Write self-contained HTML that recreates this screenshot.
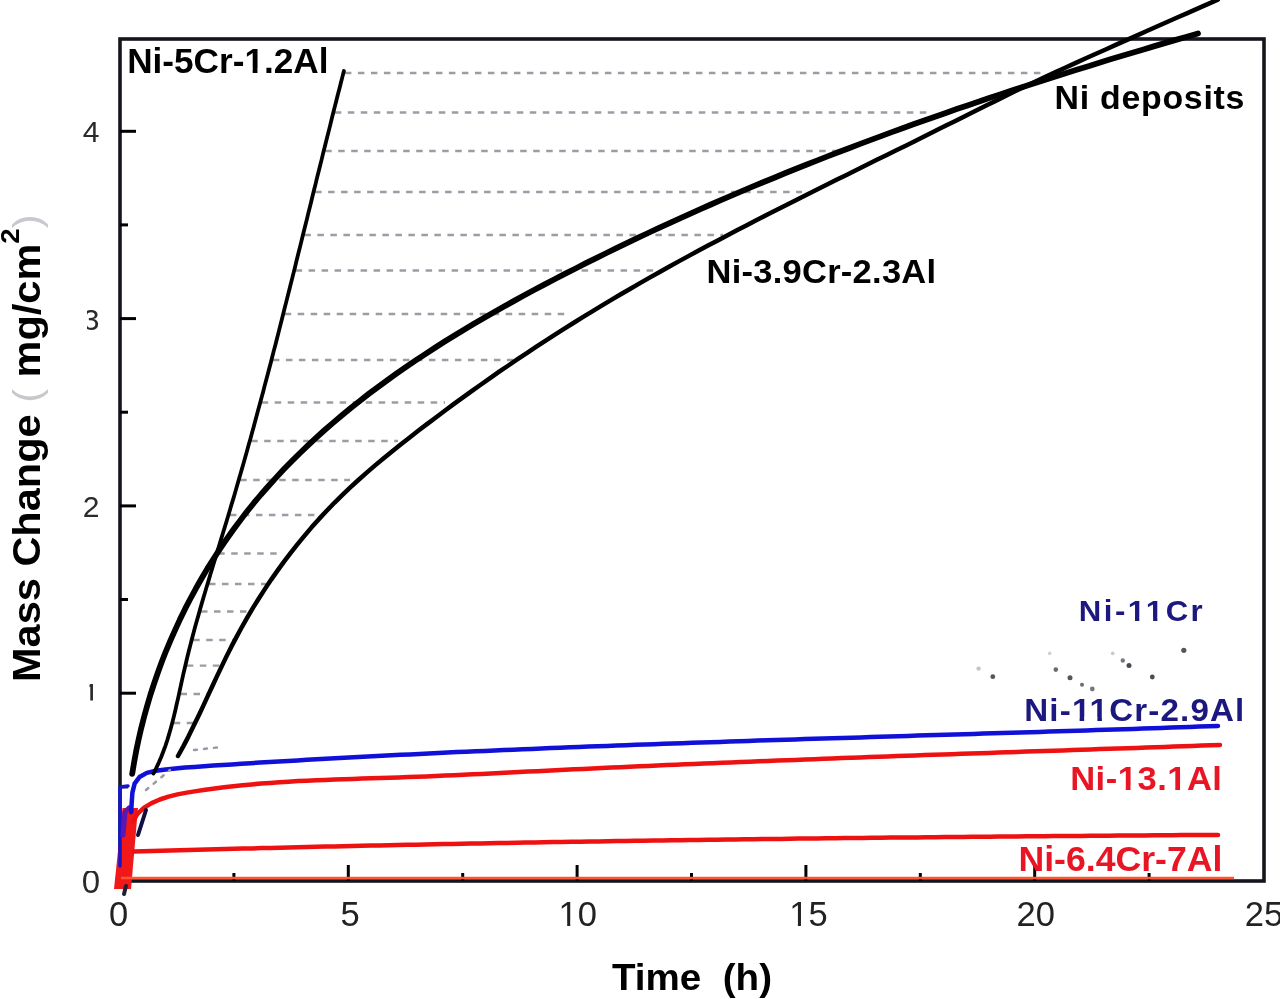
<!DOCTYPE html>
<html><head><meta charset="utf-8"><title>Mass change vs time</title>
<style>
html,body{margin:0;padding:0;background:#fff;}
body{width:1280px;height:999px;overflow:hidden;}
svg{display:block;font-family:"Liberation Sans",Arial,sans-serif;filter:blur(0.55px);}
.c{fill:none;stroke-linecap:round;stroke-linejoin:round;}
.dash{stroke:#9c9ca6;stroke-width:2.3;stroke-dasharray:6.5 6.5;}
.dot{stroke:#9a9aa6;stroke-width:2.5;stroke-dasharray:3 7;stroke-linecap:round;}
</style></head><body>
<svg width="1280" height="999" viewBox="0 0 1280 999">
<rect width="1280" height="999" fill="#fff"/>
<defs><clipPath id="f1c0" clipPathUnits="userSpaceOnUse"><path clip-rule="evenodd" d="M-3000 -3000H3000V3000H-3000ZM560.41 922.51H567.19V927.50H560.41ZM570.24 922.51H576.80V927.50H570.24Z"/></clipPath><clipPath id="f1c1" clipPathUnits="userSpaceOnUse"><path clip-rule="evenodd" d="M-3000 -3000H3000V3000H-3000ZM791.11 922.51H797.89V927.50H791.11ZM800.94 922.51H807.50V927.50H800.94Z"/></clipPath><clipPath id="f1c2" clipPathUnits="userSpaceOnUse"><path clip-rule="evenodd" d="M-3000 -3000H3000V3000H-3000ZM119.66 -4.07H126.52V2.00H119.66ZM131.39 -4.07H138.11V2.00H131.39Z"/></clipPath><clipPath id="f1c3" clipPathUnits="userSpaceOnUse"><path clip-rule="evenodd" d="M-3000 -3000H3000V3000H-3000ZM48.71 -3.53H54.57V2.00H48.71ZM58.72 -3.53H64.45V2.00H58.72ZM66.26 -3.53H72.11V2.00H66.26ZM76.27 -3.53H82.00V2.00H76.27Z"/></clipPath><clipPath id="f1c4" clipPathUnits="userSpaceOnUse"><path clip-rule="evenodd" d="M-3000 -3000H3000V3000H-3000ZM47.50 -3.73H53.72V2.00H47.50ZM58.14 -3.73H64.23V2.00H58.14ZM64.72 -3.73H70.95V2.00H64.72ZM75.36 -3.73H81.46V2.00H75.36Z"/></clipPath><clipPath id="f1c5" clipPathUnits="userSpaceOnUse"><path clip-rule="evenodd" d="M-3000 -3000H3000V3000H-3000ZM47.49 -3.87H53.98V2.00H47.49ZM58.58 -3.87H64.94V2.00H58.58ZM95.54 -3.87H102.03V2.00H95.54ZM106.64 -3.87H113.00V2.00H106.64Z"/></clipPath><clipPath id="yl0"><rect x="70.0" y="871.0" width="40.0" height="40.0"/></clipPath><clipPath id="yl1"><rect x="89.5" y="673.2" width="5.5" height="27.3"/></clipPath><clipPath id="yl2"><rect x="70.0" y="495.9" width="40.0" height="30.0"/></clipPath><clipPath id="yl3"><rect x="87.0" y="298.6" width="20.0" height="40.0"/></clipPath><clipPath id="yl4"><rect x="70.0" y="116.3" width="40.0" height="40.0"/></clipPath></defs>
<line x1="344.9" y1="73.0" x2="1043.0" y2="73.0" class="dash"/>
<line x1="334.8" y1="112.5" x2="929.0" y2="112.5" class="dash"/>
<line x1="325.2" y1="151.0" x2="840.0" y2="151.0" class="dash"/>
<line x1="315.1" y1="192.0" x2="802.0" y2="192.0" class="dash"/>
<line x1="304.4" y1="235.0" x2="723.0" y2="235.0" class="dash"/>
<line x1="295.6" y1="270.5" x2="662.0" y2="270.5" class="dash"/>
<line x1="284.7" y1="314.0" x2="570.0" y2="314.0" class="dash"/>
<line x1="272.9" y1="360.0" x2="520.0" y2="360.0" class="dash"/>
<line x1="261.7" y1="402.5" x2="445.0" y2="402.5" class="dash"/>
<line x1="251.2" y1="441.0" x2="398.0" y2="441.0" class="dash"/>
<line x1="240.2" y1="480.0" x2="350.0" y2="480.0" class="dash"/>
<line x1="229.9" y1="515.0" x2="320.0" y2="515.0" class="dash"/>
<line x1="218.2" y1="553.5" x2="280.0" y2="553.5" class="dash"/>
<line x1="209.0" y1="584.0" x2="266.0" y2="584.0" class="dash"/>
<line x1="201.0" y1="611.5" x2="253.0" y2="611.5" class="dash"/>
<line x1="193.2" y1="640.0" x2="236.0" y2="640.0" class="dash"/>
<line x1="186.8" y1="665.6" x2="225.0" y2="665.6" class="dash"/>
<line x1="180.5" y1="694.0" x2="210.0" y2="694.0" class="dash"/>
<line x1="173.7" y1="723.0" x2="200.0" y2="723.0" class="dash"/>
<rect x="120" y="39" width="1144" height="842" fill="none" stroke="#15151c" stroke-width="3.6"/>
<line x1="233.9" y1="881" x2="233.9" y2="873" stroke="#000" stroke-width="3"/>
<line x1="348.3" y1="881" x2="348.3" y2="865" stroke="#000" stroke-width="3"/>
<line x1="462.7" y1="881" x2="462.7" y2="873" stroke="#000" stroke-width="3"/>
<line x1="577.1" y1="881" x2="577.1" y2="865" stroke="#000" stroke-width="3"/>
<line x1="691.5" y1="881" x2="691.5" y2="873" stroke="#000" stroke-width="3"/>
<line x1="805.9" y1="881" x2="805.9" y2="865" stroke="#000" stroke-width="3"/>
<line x1="920.3" y1="881" x2="920.3" y2="873" stroke="#000" stroke-width="3"/>
<line x1="1034.7" y1="881" x2="1034.7" y2="865" stroke="#000" stroke-width="3"/>
<line x1="1149.1" y1="881" x2="1149.1" y2="873" stroke="#000" stroke-width="3"/>
<line x1="120" y1="786.9" x2="128" y2="786.9" stroke="#000" stroke-width="3"/>
<line x1="120" y1="693.2" x2="136" y2="693.2" stroke="#000" stroke-width="3"/>
<line x1="120" y1="599.5" x2="128" y2="599.5" stroke="#000" stroke-width="3"/>
<line x1="120" y1="505.9" x2="136" y2="505.9" stroke="#000" stroke-width="3"/>
<line x1="120" y1="412.2" x2="128" y2="412.2" stroke="#000" stroke-width="3"/>
<line x1="120" y1="318.6" x2="136" y2="318.6" stroke="#000" stroke-width="3"/>
<line x1="120" y1="224.9" x2="128" y2="224.9" stroke="#000" stroke-width="3"/>
<line x1="120" y1="131.3" x2="136" y2="131.3" stroke="#000" stroke-width="3"/>
<polygon points="114,889 131,889 138,808 122.5,808" fill="#f01818"/><path d="M126 886 L124 894" class="c" stroke="#202030" stroke-width="4"/>
<path d="M120 866 L120 787 L128 786" class="c" stroke="#1515d0" stroke-width="3.5"/>
<path d="M123 835 L125 812 L129 808" class="c" stroke="#5a18b0" stroke-width="5"/>
<path d="M134.0 851.6 L143.1 851.3 152.2 851.0 161.3 850.8 170.4 850.5 179.5 850.3 188.6 850.0 197.7 849.8 206.8 849.5 215.9 849.3 225.0 849.1 234.2 848.8 243.3 848.6 252.4 848.4 261.5 848.1 270.6 847.9 279.7 847.7 288.8 847.5 297.9 847.3 307.0 847.0 316.1 846.8 325.2 846.6 334.3 846.4 343.4 846.2 352.6 846.0 361.7 845.8 370.8 845.6 379.9 845.4 389.0 845.2 398.1 845.0 407.2 844.8 416.3 844.7 425.4 844.5 434.5 844.3 443.6 844.1 452.7 843.9 461.9 843.8 471.0 843.6 480.1 843.4 489.2 843.2 498.3 843.1 507.4 842.9 516.5 842.8 525.6 842.6 534.7 842.4 543.8 842.3 552.9 842.1 562.1 842.0 571.2 841.8 580.3 841.7 589.4 841.5 598.5 841.4 607.6 841.2 616.7 841.1 625.8 841.0 634.9 840.8 644.0 840.7 653.2 840.6 662.3 840.4 671.4 840.3 680.5 840.2 689.6 840.0 698.7 839.9 707.8 839.8 716.9 839.7 726.0 839.6 735.1 839.4 744.3 839.3 753.4 839.2 762.5 839.1 771.6 839.0 780.7 838.9 789.8 838.8 798.9 838.6 808.0 838.5 817.1 838.4 826.3 838.3 835.4 838.2 844.5 838.1 853.6 838.0 862.7 837.9 871.8 837.8 880.9 837.7 890.0 837.6 899.1 837.5 908.3 837.5 917.4 837.4 926.5 837.3 935.6 837.2 944.7 837.1 953.8 837.0 962.9 836.9 972.0 836.8 981.1 836.8 990.2 836.7 999.4 836.6 1008.5 836.5 1017.6 836.4 1026.7 836.3 1035.8 836.3 1044.9 836.2 1054.0 836.1 1063.1 836.0 1072.2 836.0 1081.3 835.9 1090.5 835.8 1099.6 835.7 1108.7 835.7 1117.8 835.6 1126.9 835.5 1136.0 835.5 1145.1 835.4 1154.2 835.3 1163.3 835.3 1172.4 835.2 1181.6 835.1 1190.7 835.1 1199.8 835.0 1208.9 834.9 1218.0 834.9" class="c" stroke="#ee1111" stroke-width="4.5"/>
<line x1="121" y1="878" x2="1234" y2="878" stroke="#ff5533" stroke-width="2.5"/>
<path d="M132.9 821.4 L137.7 813.6 144.1 807.7 151.6 803.1 159.8 799.5 168.5 796.6 177.5 794.4 186.8 792.6 196.1 791.1 205.4 789.7 214.7 788.4 224.0 787.3 233.3 786.2 242.5 785.3 251.8 784.4 261.0 783.6 270.2 782.9 279.4 782.2 288.6 781.7 297.8 781.1 307.0 780.7 316.2 780.2 325.3 779.9 334.5 779.5 343.7 779.2 352.9 778.9 362.0 778.6 371.2 778.3 380.4 778.0 389.6 777.7 398.8 777.4 407.9 777.1 417.2 776.7 426.4 776.4 435.6 776.0 444.8 775.6 454.0 775.2 463.3 774.8 472.5 774.3 481.7 773.9 491.0 773.5 500.2 773.0 509.5 772.5 518.7 772.1 528.0 771.6 537.2 771.2 546.5 770.7 555.7 770.2 565.0 769.8 574.2 769.3 583.4 768.9 592.7 768.5 601.9 768.0 611.2 767.6 620.4 767.2 629.6 766.8 638.9 766.3 648.1 765.9 657.3 765.5 666.6 765.1 675.8 764.7 685.0 764.3 694.2 763.9 703.5 763.5 712.7 763.2 721.9 762.8 731.1 762.4 740.4 762.0 749.6 761.7 758.8 761.3 768.0 760.9 777.2 760.6 786.4 760.2 795.7 759.9 804.9 759.5 814.1 759.2 823.3 758.8 832.5 758.5 841.7 758.1 851.0 757.8 860.2 757.4 869.4 757.1 878.6 756.8 887.8 756.4 897.0 756.1 906.2 755.8 915.5 755.4 924.7 755.1 933.9 754.8 943.1 754.5 952.3 754.2 961.5 753.8 970.8 753.5 980.0 753.2 989.2 752.9 998.4 752.6 1007.6 752.2 1016.9 751.9 1026.1 751.6 1035.3 751.3 1044.5 751.0 1053.7 750.7 1063.0 750.4 1072.2 750.1 1081.4 749.7 1090.6 749.4 1099.9 749.1 1109.1 748.8 1118.3 748.5 1127.6 748.2 1136.8 747.9 1146.0 747.5 1155.3 747.2 1164.5 746.9 1173.8 746.6 1183.0 746.3 1192.3 746.0 1201.5 745.6 1210.7 745.3 1220.0 745.0" class="c" stroke="#ee1111" stroke-width="4.5"/>
<path d="M131.2 812.2 L131.7 802.6 132.4 792.6 134.6 783.7 139.5 777.0 146.8 772.9 155.9 770.7 165.7 769.4 175.5 768.4 185.1 767.6 194.5 766.9 203.9 766.2 213.3 765.6 222.6 765.0 232.0 764.4 241.3 763.8 250.7 763.2 260.1 762.6 269.4 762.1 278.8 761.5 288.2 760.9 297.5 760.4 306.9 759.8 316.3 759.3 325.6 758.8 335.0 758.3 344.4 757.8 353.7 757.3 363.1 756.8 372.5 756.3 381.9 755.8 391.3 755.3 400.6 754.8 410.0 754.4 419.4 753.9 428.8 753.5 438.2 753.0 447.5 752.6 456.9 752.1 466.3 751.7 475.7 751.3 485.1 750.9 494.5 750.5 503.9 750.1 513.3 749.7 522.6 749.3 532.0 748.9 541.4 748.5 550.8 748.1 560.2 747.7 569.6 747.3 579.0 747.0 588.4 746.6 597.8 746.3 607.2 745.9 616.6 745.5 626.0 745.2 635.4 744.8 644.8 744.5 654.2 744.2 663.6 743.8 673.0 743.5 682.4 743.2 691.8 742.8 701.2 742.5 710.6 742.2 720.0 741.9 729.4 741.6 738.8 741.3 748.2 740.9 757.6 740.6 767.0 740.3 776.4 740.0 785.8 739.7 795.2 739.4 804.6 739.1 814.0 738.8 823.4 738.5 832.8 738.2 842.2 737.9 851.6 737.7 861.0 737.4 870.4 737.1 879.8 736.8 889.2 736.5 898.6 736.2 908.0 735.9 917.4 735.6 926.8 735.3 936.2 735.1 945.6 734.8 955.0 734.5 964.4 734.2 973.8 733.9 983.2 733.6 992.6 733.3 1002.0 733.0 1011.4 732.8 1020.8 732.5 1030.2 732.2 1039.6 731.9 1049.0 731.6 1058.4 731.3 1067.8 731.0 1077.2 730.7 1086.6 730.4 1096.0 730.1 1105.4 729.8 1114.7 729.5 1124.1 729.2 1133.5 728.9 1142.9 728.6 1152.3 728.2 1161.7 727.9 1171.1 727.6 1180.5 727.3 1189.8 727.0 1199.2 726.6 1208.6 726.3 1218.0 726.0" class="c" stroke="#1010d8" stroke-width="4.5"/>
<path d="M153.4 773.6 L156.2 768.1 158.8 762.6 161.2 757.0 163.4 751.3 165.5 745.6 167.4 739.9 169.1 734.1 170.8 728.2 172.4 722.3 173.9 716.4 175.3 710.5 176.6 704.5 178.0 698.6 179.3 692.6 180.6 686.6 181.9 680.6 183.2 674.6 184.6 668.7 186.0 662.7 187.4 656.8 188.9 650.8 190.4 644.9 191.9 639.0 193.5 633.1 195.1 627.1 196.7 621.2 198.4 615.4 200.0 609.5 201.7 603.6 203.4 597.7 205.2 591.8 206.9 586.0 208.7 580.1 210.4 574.2 212.2 568.4 214.0 562.5 215.8 556.7 217.5 550.8 219.3 545.0 221.1 539.1 222.9 533.3 224.7 527.4 226.5 521.5 228.2 515.7 230.0 509.8 231.7 503.9 233.5 498.1 235.2 492.2 236.9 486.3 238.6 480.4 240.3 474.5 242.0 468.6 243.7 462.8 245.3 456.9 247.0 451.0 248.6 445.1 250.3 439.2 251.9 433.3 253.5 427.4 255.1 421.4 256.7 415.5 258.3 409.6 259.9 403.7 261.5 397.8 263.1 391.9 264.6 385.9 266.2 380.0 267.8 374.1 269.3 368.2 270.9 362.2 272.4 356.3 273.9 350.4 275.5 344.4 277.0 338.5 278.5 332.6 280.0 326.6 281.5 320.7 283.0 314.8 284.5 308.8 286.0 302.9 287.5 296.9 289.0 291.0 290.5 285.0 292.0 279.1 293.5 273.1 295.0 267.2 296.4 261.2 297.9 255.3 299.4 249.3 300.9 243.4 302.3 237.5 303.8 231.5 305.3 225.5 306.8 219.6 308.2 213.6 309.7 207.7 311.2 201.7 312.6 195.8 314.1 189.8 315.6 183.9 317.0 177.9 318.5 172.0 320.0 166.0 321.5 160.1 322.9 154.1 324.4 148.2 325.9 142.3 327.4 136.3 328.9 130.4 330.4 124.4 331.8 118.5 333.3 112.5 334.8 106.6 336.3 100.7 337.8 94.7 339.4 88.8 340.9 82.8 342.4 76.9 343.9 71.0" class="c" stroke="#000" stroke-width="3.8"/>
<path d="M132.2 773.9 L134.1 762.4 136.2 750.9 138.6 739.5 141.2 728.2 144.1 716.9 147.2 705.7 150.5 694.5 154.1 683.5 157.9 672.5 161.9 661.6 166.1 650.8 170.6 640.2 175.3 629.6 180.1 619.1 185.2 608.7 190.5 598.5 196.0 588.3 201.7 578.3 207.5 568.4 213.6 558.7 219.8 549.1 226.3 539.6 232.9 530.3 239.7 521.1 246.6 512.1 253.7 503.2 261.0 494.5 268.5 486.0 276.1 477.6 283.8 469.3 291.7 461.2 299.8 453.2 308.0 445.3 316.3 437.6 324.7 430.0 333.3 422.6 342.0 415.2 350.8 408.0 359.7 400.9 368.7 393.9 377.9 387.1 387.1 380.3 396.4 373.6 405.8 367.1 415.3 360.6 424.9 354.3 434.6 348.0 444.3 341.8 454.1 335.7 464.0 329.7 473.9 323.8 483.9 318.0 493.9 312.2 504.0 306.5 514.1 300.9 524.3 295.3 534.5 289.8 544.7 284.4 555.0 279.0 565.3 273.7 575.6 268.5 585.9 263.2 596.2 258.1 606.5 253.0 616.9 247.9 627.3 242.9 637.7 237.9 648.1 233.0 658.5 228.2 669.0 223.3 679.4 218.6 689.9 213.8 700.4 209.2 710.9 204.5 721.4 199.9 732.0 195.4 742.5 190.9 753.1 186.4 763.7 182.0 774.3 177.7 784.9 173.3 795.5 169.0 806.2 164.8 816.8 160.6 827.5 156.4 838.2 152.3 848.9 148.2 859.6 144.1 870.3 140.1 881.1 136.1 891.8 132.1 902.6 128.2 913.4 124.3 924.2 120.5 935.0 116.7 945.8 112.9 956.7 109.1 967.5 105.4 978.4 101.7 989.2 98.0 1000.1 94.4 1011.0 90.8 1021.9 87.2 1032.8 83.7 1043.8 80.2 1054.7 76.7 1065.7 73.2 1076.6 69.8 1087.6 66.4 1098.6 63.0 1109.6 59.6 1120.6 56.3 1131.6 53.0 1142.7 49.7 1153.7 46.4 1164.7 43.1 1175.8 39.9 1186.9 36.7 1198.0 33.5" class="c" stroke="#000" stroke-width="5.8"/>
<path d="M178.0 756.0 L183.3 746.4 188.4 736.6 193.3 726.6 198.1 716.7 202.9 706.6 207.5 696.6 212.2 686.5 216.9 676.4 221.7 666.4 226.5 656.4 231.5 646.4 236.7 636.6 242.0 626.8 247.5 617.2 253.1 607.6 259.0 598.2 265.0 588.9 271.2 579.6 277.5 570.6 284.0 561.6 290.7 552.8 297.6 544.1 304.6 535.6 311.8 527.1 319.1 518.9 326.7 510.8 334.4 502.8 342.2 495.1 350.3 487.4 358.4 480.0 366.7 472.6 375.1 465.4 383.7 458.3 392.3 451.3 401.0 444.3 409.7 437.5 418.5 430.6 427.3 423.9 436.2 417.2 445.1 410.5 454.0 403.9 463.0 397.4 472.0 390.9 481.0 384.5 490.1 378.1 499.2 371.7 508.4 365.5 517.6 359.2 526.8 353.1 536.0 346.9 545.3 340.9 554.6 334.9 564.0 328.9 573.4 323.0 582.8 317.1 592.3 311.3 601.7 305.6 611.3 299.9 620.8 294.2 630.4 288.7 640.0 283.1 649.6 277.6 659.3 272.2 669.0 266.8 678.7 261.4 688.4 256.1 698.2 250.8 708.0 245.6 717.8 240.4 727.6 235.2 737.4 230.1 747.3 224.9 757.2 219.8 767.0 214.8 776.9 209.7 786.9 204.7 796.8 199.7 806.7 194.7 816.6 189.7 826.6 184.8 836.5 179.8 846.5 174.9 856.4 170.0 866.4 165.0 876.3 160.1 886.3 155.2 896.3 150.3 906.2 145.4 916.2 140.4 926.1 135.5 936.0 130.6 946.0 125.6 955.9 120.7 965.8 115.7 975.7 110.8 985.7 105.8 995.6 100.9 1005.5 96.0 1015.5 91.1 1025.5 86.3 1035.5 81.5 1045.5 76.8 1055.6 72.1 1065.7 67.5 1075.8 62.9 1085.9 58.3 1096.0 53.7 1106.2 49.2 1116.3 44.6 1126.5 40.1 1136.6 35.6 1146.8 31.0 1156.9 26.5 1167.1 22.0 1177.2 17.5 1187.4 13.1 1197.5 8.6 1207.7 4.1 1217.8 -0.4" class="c" stroke="#000" stroke-width="4.5"/>
<path d="M146 810 L138 835" class="c" stroke="#101040" stroke-width="4"/>
<circle cx="978.6" cy="668.6" r="2.2" fill="#c4c4cc"/>
<circle cx="992.8" cy="676.7" r="2.4" fill="#55555e"/>
<circle cx="1049.7" cy="653.4" r="1.8" fill="#d0d0d6"/>
<circle cx="1055.8" cy="669.6" r="2.3" fill="#6a6a72"/>
<circle cx="1070.0" cy="677.7" r="2.5" fill="#55555e"/>
<circle cx="1082.0" cy="684.8" r="2.0" fill="#6a6a72"/>
<circle cx="1092.3" cy="689.0" r="2.4" fill="#77777f"/>
<circle cx="1112.7" cy="653.4" r="1.8" fill="#c8c8d0"/>
<circle cx="1122.8" cy="660.5" r="2.2" fill="#77777f"/>
<circle cx="1129.0" cy="665.5" r="2.5" fill="#4a4a52"/>
<circle cx="1152.3" cy="677.0" r="2.4" fill="#4a4a52"/>
<circle cx="1183.8" cy="650.3" r="2.6" fill="#55555e"/>
<line x1="146" y1="790" x2="170" y2="770" class="dot"/>
<line x1="194" y1="750" x2="222" y2="747" class="dot"/>
<text x="118.7" y="925.5" font-size="34.5" font-weight="normal" fill="#222" text-anchor="middle" >0</text>
<text x="350.0" y="925.5" font-size="34.5" font-weight="normal" fill="#222" text-anchor="middle" >5</text>
<text clip-path="url(#f1c0)" x="577.7" y="925.5" font-size="34.5" font-weight="normal" fill="#222" text-anchor="middle" >10</text>
<text clip-path="url(#f1c1)" x="808.4" y="925.5" font-size="34.5" font-weight="normal" fill="#222" text-anchor="middle" >15</text>
<text x="1035.7" y="925.5" font-size="34.5" font-weight="normal" fill="#222" text-anchor="middle" >20</text>
<text x="1264.0" y="925.5" font-size="34.5" font-weight="normal" fill="#222" text-anchor="middle" >25</text>
<text x="91.0" y="892.5" font-size="33.0" font-weight="normal" fill="#2a2a2a" text-anchor="middle" clip-path="url(#yl0)">0</text>
<text x="91.0" y="704.2" font-size="30.0" font-weight="normal" fill="#2a2a2a" text-anchor="middle" clip-path="url(#yl1)">1</text>
<text x="91.0" y="516.9" font-size="30.0" font-weight="normal" fill="#2a2a2a" text-anchor="middle" clip-path="url(#yl2)">2</text>
<text x="91.0" y="329.6" font-size="30.0" font-weight="normal" fill="#2a2a2a" text-anchor="middle" clip-path="url(#yl3)">3</text>
<text x="91.0" y="142.3" font-size="30.0" font-weight="normal" fill="#2a2a2a" text-anchor="middle" clip-path="url(#yl4)">4</text>
<text clip-path="url(#f1c2)" transform="translate(127.14,72.50) scale(0.9920,1)" font-size="35.48" font-weight="bold" fill="#000" >Ni-5Cr-1.2Al</text>
<text transform="translate(1054.53,109.20) scale(1.0300,1)" font-size="32.88" font-weight="bold" fill="#000" letter-spacing="0.72" >Ni deposits</text>
<text transform="translate(706.59,283.45) scale(1.0300,1)" font-size="33.49" font-weight="bold" fill="#000" letter-spacing="0.25" >Ni-3.9Cr-2.3Al</text>
<text clip-path="url(#f1c3)" transform="translate(1078.82,620.70) scale(1.0300,1)" font-size="30.27" font-weight="bold" fill="#1c1880" letter-spacing="2.39" >Ni-11Cr</text>
<text clip-path="url(#f1c4)" transform="translate(1024.28,720.70) scale(1.0300,1)" font-size="32.19" font-weight="bold" fill="#1c1880" letter-spacing="1.11" >Ni-11Cr-2.9Al</text>
<text clip-path="url(#f1c5)" transform="translate(1070.18,789.90) scale(1.0300,1)" font-size="33.56" font-weight="bold" fill="#e81624" letter-spacing="0.48" >Ni-13.1Al</text>
<text transform="translate(1018.40,870.80) scale(1.0130,1)" font-size="35.21" font-weight="bold" fill="#e81624" >Ni-6.4Cr-7Al</text>
<text transform="translate(612.01,990.40) scale(1.0242,1)" font-size="37.67" font-weight="bold" fill="#000" >Time&#160;&#160;(h)</text>
<text transform="translate(39.5,682) rotate(-90) scale(1.065,1)" font-size="39" font-weight="bold" fill="#000">Mass Change <tspan fill="#c8c8cc" font-weight="normal">(</tspan> mg/cm<tspan font-size="26" dy="-21">2</tspan><tspan dy="21" fill="#c8c8d0" font-weight="normal">)</tspan></text>
</svg>
</body></html>
